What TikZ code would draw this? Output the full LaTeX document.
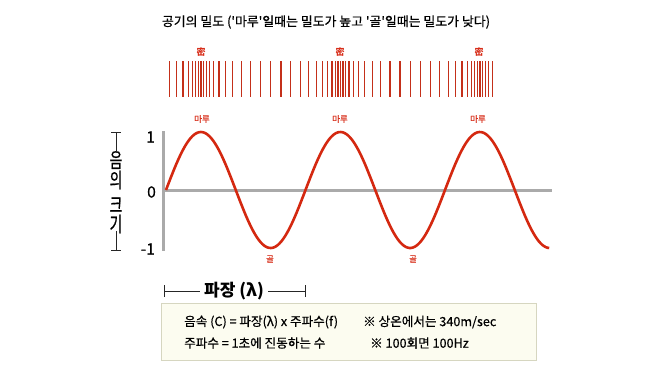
\documentclass[tikz,border=0pt]{standalone}
\usepackage{fontspec}
\setmainfont{Noto Sans CJK KR}
\newfontfamily\medfont{Noto Sans CJK KR}[FakeBold=0.6]
\definecolor{wavered}{RGB}{212,40,16}
\definecolor{labelred}{RGB}{215,45,25}
\definecolor{densred}{RGB}{196,48,26}
\definecolor{axisgray}{RGB}{170,170,170}
\definecolor{boxfill}{RGB}{252,252,240}
\definecolor{boxborder}{RGB}{214,214,192}
\begin{document}
\begin{tikzpicture}[x=1pt,y=-1pt,
  wave/.style={draw=wavered, line width=2.6pt},
  axisline/.style={draw=axisgray, line width=3pt},
  densline/.style={draw=densred, line width=1.2pt},
  redlbl/.style={text=labelred, inner sep=0pt, font=\medfont\fontsize{8.5}{9}\selectfont},
  millbl/.style={text=labelred, inner sep=0pt, font=\fontsize{9}{10}\selectfont\bfseries},
  ticklbl/.style={anchor=east, inner sep=0pt, font=\medfont\fontsize{15.5}{16}\selectfont},
  vchar/.style={inner sep=0pt, font=\medfont\fontsize{20.5}{21}\selectfont},
  bracket/.style={draw=black!85, line width=0.8pt},
  infotext/.style={anchor=west, inner sep=0pt, font=\medfont\fontsize{12.6}{14}\selectfont}]
\useasboundingbox (0,0) rectangle (658,365);

% title
\node[font=\medfont\fontsize{12.9}{14}\selectfont] (title) at (326,22)
  {공기의 밀도 (\textquotesingle 마루\textquotesingle 일때는 밀도가 높고 \textquotesingle 골\textquotesingle 일때는 밀도가 낮다)};

% density lines
\foreach \i in {-7,...,48}{
  \pgfmathsetmacro\ph{(6.34*\i)/139.5}
  \pgfmathsetmacro\xx{201+6.34*\i-13.8*sin(\ph*360)}
  \draw[densline] (\xx,61) -- (\xx,97);
}
\node[millbl] (mil1) at (201,52) {密};
\node[millbl] (mil2) at (340,52) {密};
\node[millbl] (mil3) at (479,52) {密};

% axes
\coordinate (ytop) at (163,131);
\coordinate (ybot) at (163,251);
\coordinate (orig) at (163,190);
\coordinate (xend) at (552,190);
\draw[axisline] (ytop) -- (ybot);
\draw[axisline] (orig) -- (xend);

% wave
\draw[wave] plot[domain=0:2.75, samples=220, smooth] ({166+139.5*\x},{190-58*sin(360*\x)});

% wave labels
\node[redlbl] (peak1) at (202,119) {마루};
\node[redlbl] (peak2) at (340,119) {마루};
\node[redlbl] (peak3) at (478,119) {마루};
\node[redlbl] (trough1) at (270,259) {골};
\node[redlbl] (trough2) at (413,259) {골};

% tick labels
\node[ticklbl] (lblone) at (155,137) {1};
\node[ticklbl] (lblzero) at (156,192) {0};
\node[ticklbl] (lblmone) at (155,249) {-1};

% vertical label
\node[vchar] (c1) at (116,160) {\scalebox{0.68}[1]{음}};
\node[vchar] (c2) at (116,180) {\scalebox{0.68}[1]{의}};
\node[vchar] (c3) at (116,205) {\scalebox{0.68}[1]{크}};
\node[vchar] (c4) at (116,224) {\scalebox{0.68}[1]{기}};
\coordinate (vt) at (116,132);
\coordinate (vb) at (116,250);
\draw[bracket] (vt) -- ([yshift=-2pt]c1.north);
\draw[bracket] ([xshift=-5pt]vt) -- ([xshift=5pt]vt);
\draw[bracket] (vb) -- ([yshift=2pt]c4.south);
\draw[bracket] ([xshift=-5pt]vb) -- ([xshift=5pt]vb);

% wavelength
\node[font=\fontsize{17}{18}\selectfont\bfseries, inner sep=4pt] (wlt) at (234,291) {파장 (λ)};
\coordinate (wl) at (164,291);
\coordinate (wr) at (305,291);
\draw[bracket] (wl) -- (wlt.west);
\draw[bracket] (wlt.east) -- (wr);
\draw[bracket] ([yshift=-6pt]wl) -- ([yshift=6pt]wl);
\draw[bracket] ([yshift=-6pt]wr) -- ([yshift=6pt]wr);

% info box
\node[draw=boxborder, fill=boxfill, line width=1.2pt, minimum width=375pt, minimum height=57pt, inner sep=0pt] (box) at (349.2,331.7) {};
\node[infotext] (t1) at (184,322) {음속 (C) = 파장(λ) x 주파수(f)};
\node[infotext] (t2) at (363,322) {※ 상온에서는 340m/sec};
\node[infotext] (t3) at (184,343) {주파수 = 1초에 진동하는 수};
\node[infotext] (t4) at (370,343) {※ 100회면 100Hz};
\end{tikzpicture}
\end{document}
